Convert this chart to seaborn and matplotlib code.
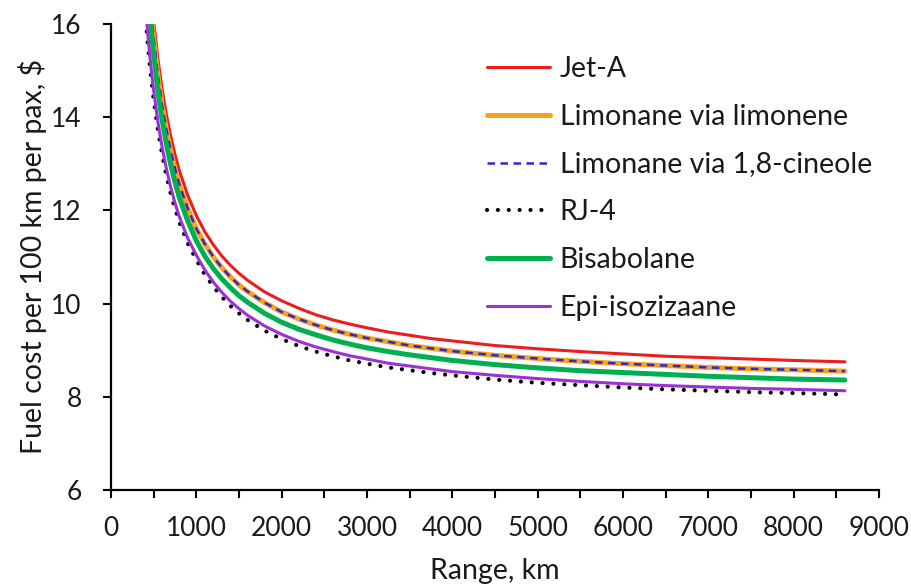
import matplotlib
matplotlib.use("Agg")
import matplotlib.pyplot as plt
import seaborn as sns
import pandas as pd

# range, km
range_km = [375, 400, 425, 450, 475, 500, 550, 600, 650, 700, 750, 800, 900,
            1000, 1100, 1200, 1300, 1400, 1500, 1600, 1800, 2000, 2200, 2400,
            2600, 2800, 3000, 3250, 3500, 3750, 4000, 4500, 5000, 5500, 6000,
            6500, 7000, 7500, 8000, 8600]

# fuel cost per 100 km per pax, $
jet_a = [19.34, 18.48, 17.75, 17.12, 16.56, 16.07, 15.25, 14.59, 14.05, 13.59,
         13.20, 12.86, 12.32, 11.89, 11.54, 11.26, 11.02, 10.82, 10.65, 10.50,
         10.25, 10.06, 9.90, 9.76, 9.65, 9.56, 9.48, 9.39, 9.32, 9.25, 9.20,
         9.10, 9.03, 8.97, 8.92, 8.87, 8.84, 8.81, 8.78, 8.75]
limonane = [18.90, 18.06, 17.34, 16.73, 16.18, 15.70, 14.90, 14.25, 13.73,
            13.28, 12.90, 12.56, 12.04, 11.61, 11.28, 11.00, 10.77, 10.57,
            10.40, 10.26, 10.02, 9.82, 9.67, 9.54, 9.43, 9.34, 9.26, 9.18,
            9.10, 9.04, 8.98, 8.89, 8.82, 8.76, 8.71, 8.67, 8.63, 8.60, 8.58,
            8.55]
bisabolane = [18.47, 17.65, 16.95, 16.35, 15.81, 15.35, 14.56, 13.93, 13.42,
              12.98, 12.61, 12.28, 11.77, 11.35, 11.02, 10.75, 10.53, 10.34,
              10.17, 10.03, 9.79, 9.60, 9.45, 9.33, 9.22, 9.13, 9.05, 8.97,
              8.90, 8.84, 8.78, 8.69, 8.62, 8.56, 8.52, 8.48, 8.44, 8.41, 8.38,
              8.36]
epi = [17.17, 16.50, 15.93, 15.42, 14.97, 14.58, 13.90, 13.35, 12.89, 12.50,
       12.16, 11.87, 11.40, 11.04, 10.72, 10.46, 10.24, 10.05, 9.89, 9.75,
       9.52, 9.34, 9.19, 9.07, 8.97, 8.88, 8.81, 8.72, 8.66, 8.60, 8.54, 8.46,
       8.39, 8.33, 8.28, 8.24, 8.21, 8.18, 8.16, 8.13]
rj4 = [16.93, 16.26, 15.70, 15.20, 14.76, 14.38, 13.72, 13.19, 12.74, 12.36,
       12.03, 11.75, 11.29, 10.94, 10.62, 10.36, 10.14, 9.95, 9.79, 9.65,
       9.42, 9.24, 9.09, 8.97, 8.87, 8.78, 8.71, 8.63, 8.57, 8.51, 8.46, 8.37,
       8.30, 8.25, 8.20, 8.16, 8.13, 8.10, 8.08, 8.05]

df = pd.DataFrame({"range": range_km, "Jet-A": jet_a, "Limonane": limonane,
                   "Bisabolane": bisabolane, "Epi": epi, "RJ-4": rj4})

sns.set_style("ticks")
plt.rcParams["font.family"] = ["Lato", "DejaVu Sans"]
text_color = "#1a1a1a"

fig = plt.figure(figsize=(9.11, 5.85), dpi=100)
ax = fig.add_axes([0.1218, 0.1624, 0.8431, 0.7966])

sns.lineplot(data=df, x="range", y="Jet-A", ax=ax, color="#EE1C1C", lw=2.2,
             label="Jet-A")
sns.lineplot(data=df, x="range", y="Limonane", ax=ax, color="#F7A11C", lw=3.6,
             label="Limonane via limonene")
sns.lineplot(data=df, x="range", y="Limonane", ax=ax, color="#2B2BD0", lw=1.8,
             linestyle=(0, (3.0, 2.2)), label="Limonane via 1,8-cineole")
sns.lineplot(data=df, x="range", y="RJ-4", ax=ax, color="black", lw=3.0,
             linestyle=(0, (0.01, 2.6)), dash_capstyle="round", label="RJ-4")
sns.lineplot(data=df, x="range", y="Bisabolane", ax=ax, color="#00B050", lw=3.6,
             label="Bisabolane")
sns.lineplot(data=df, x="range", y="Epi", ax=ax, color="#9B30D6", lw=2.2,
             label="Epi-isozizaane")

ax.set_xlim(0, 9000)
ax.set_ylim(6, 16)
ax.set_xticks(range(0, 9001, 500))
ax.set_xticklabels([str(v) if v % 1000 == 0 else "" for v in range(0, 9001, 500)])
ax.set_yticks(range(6, 17, 2))
ax.tick_params(axis="both", direction="out", length=6, width=1.5,
               labelsize=19, color="black", labelcolor=text_color)
ax.tick_params(axis="x", pad=13)
ax.tick_params(axis="y", pad=15)

for side in ["top", "right"]:
    ax.spines[side].set_visible(False)
for side in ["left", "bottom"]:
    ax.spines[side].set_linewidth(1.6)
    ax.spines[side].set_color("black")

ax.set_xlabel("Range, km", fontsize=20.5, color=text_color, labelpad=12)
ax.set_ylabel("Fuel cost per 100 km per pax, $", fontsize=20.5,
              color=text_color, labelpad=3)

leg = ax.legend(loc="upper left", bbox_to_anchor=(0.4896, 0.932), frameon=False,
                fontsize=20.5, handlelength=2.2, handletextpad=0.35,
                labelspacing=0.77, borderaxespad=0, borderpad=0)
for t in leg.get_texts():
    t.set_color(text_color)

fig.savefig("out.png", dpi=100)
